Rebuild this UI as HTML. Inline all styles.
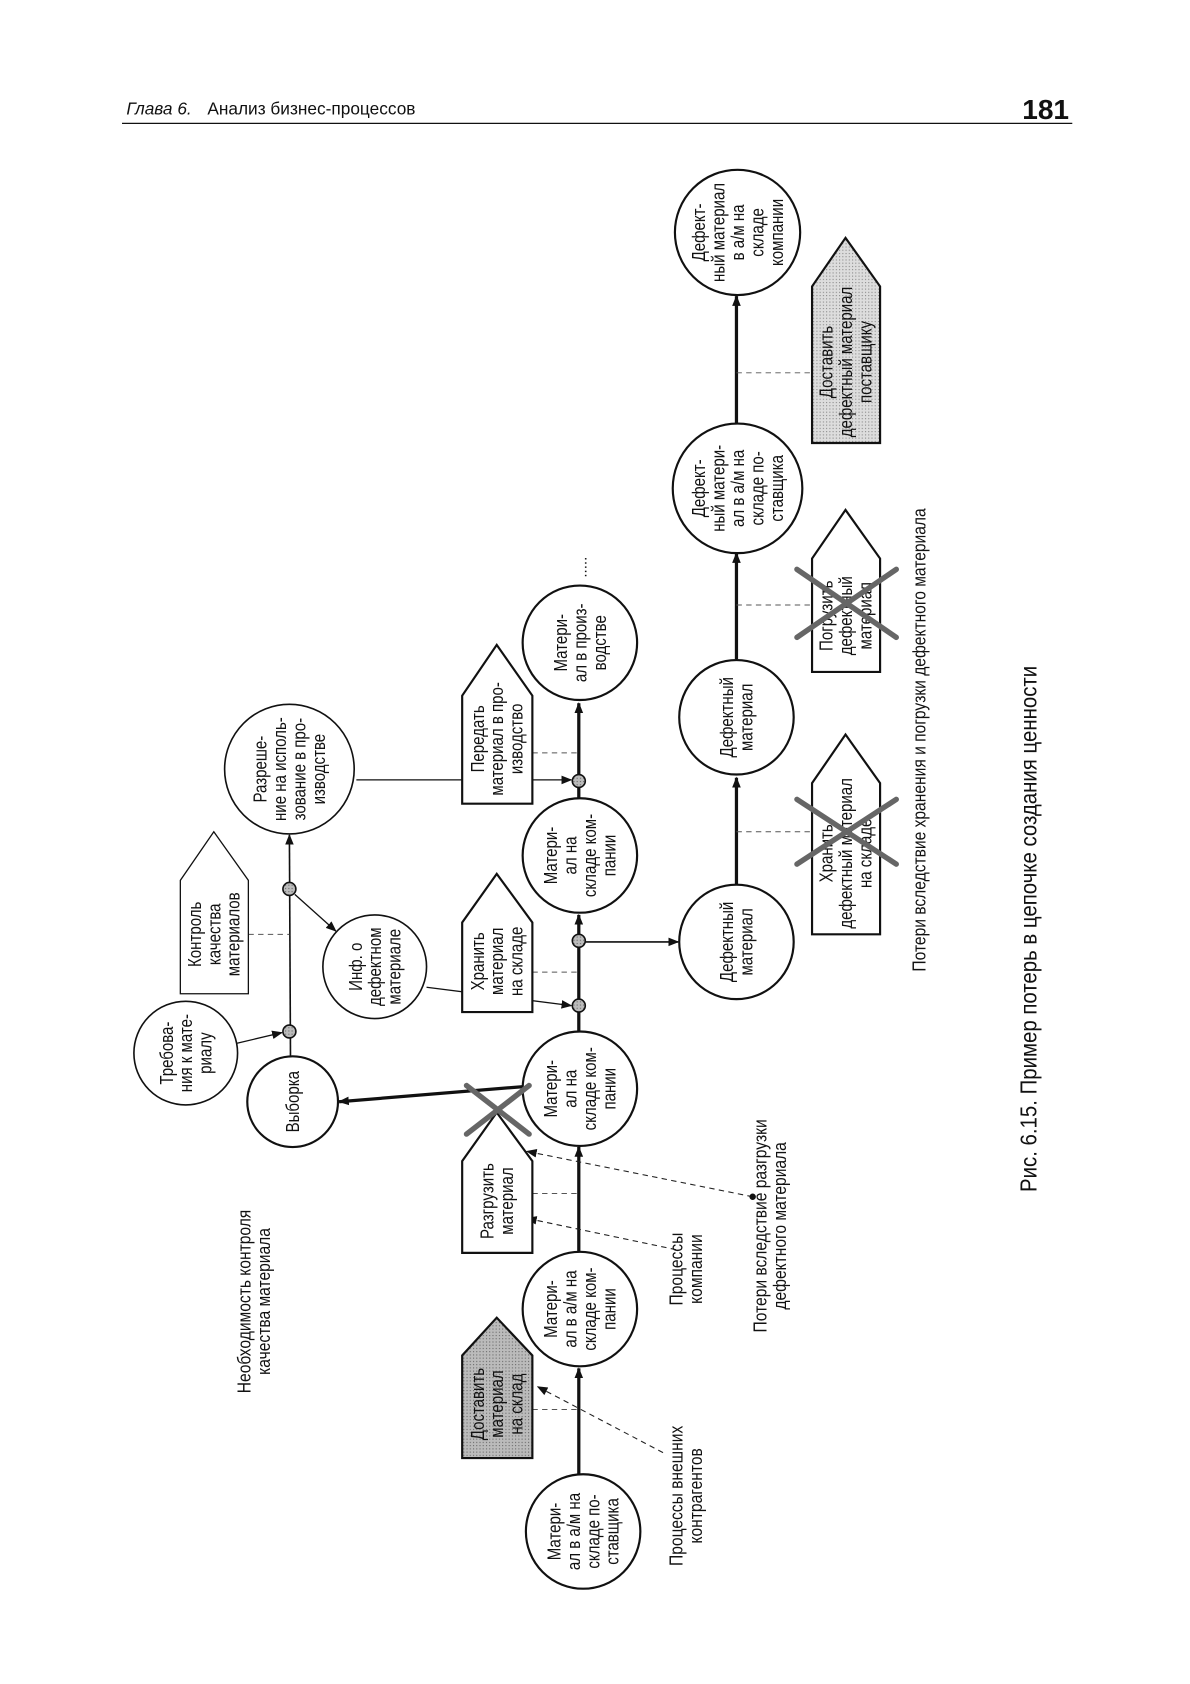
<!DOCTYPE html>
<html><head><meta charset="utf-8"><style>
html,body{margin:0;padding:0;background:#fff;}
svg{display:block;}
text{font-family:"Liberation Sans Narrow","Liberation Sans","DejaVu Sans",sans-serif;fill:#111;}
</style></head><body>
<svg width="1190" height="1684" viewBox="0 0 1102 1559" xmlns="http://www.w3.org/2000/svg">
<defs>
<marker id="a" markerWidth="10" markerHeight="10" refX="9" refY="5" orient="auto" markerUnits="userSpaceOnUse"><path d="M0,1 L10,5 L0,9 Z" fill="#111"/></marker>
<pattern id="g" width="3" height="3" patternUnits="userSpaceOnUse"><rect width="3" height="3" fill="#bbb"/><rect width="1" height="1" fill="#666"/></pattern>
<pattern id="g2" width="3" height="3" patternUnits="userSpaceOnUse"><rect width="3" height="3" fill="#ddd"/><rect width="1" height="1" fill="#888"/></pattern>
</defs>

<!-- header -->
<text x="117" y="106" font-size="16" font-style="italic" style="font-family:'Liberation Sans',sans-serif">Глава 6.</text>
<text x="192" y="106" font-size="16" style="font-family:'Liberation Sans',sans-serif">Анализ бизнес-процессов</text>
<text x="990" y="110" font-size="26" font-weight="bold" text-anchor="end" style="font-family:'Liberation Sans',sans-serif">181</text>
<line x1="113" y1="114" x2="993" y2="114" stroke="#111" stroke-width="1.2"/>

<g stroke="#111" fill="none">
<line x1="536" y1="1365" x2="536" y2="1267" stroke-width="3" marker-end="url(#a)"/>
<line x1="536" y1="1160" x2="536" y2="1062" stroke-width="3" marker-end="url(#a)"/>
<line x1="536" y1="955" x2="536" y2="847" stroke-width="3" marker-end="url(#a)"/>
<line x1="536" y1="740" x2="536" y2="651" stroke-width="3" marker-end="url(#a)"/>
<line x1="542" y1="872" x2="628" y2="872" stroke-width="1.5" marker-end="url(#a)"/>
<line x1="682" y1="820" x2="682" y2="720" stroke-width="3" marker-end="url(#a)"/>
<line x1="682" y1="610" x2="682" y2="512" stroke-width="3" marker-end="url(#a)"/>
<line x1="682" y1="392" x2="682" y2="274" stroke-width="3" marker-end="url(#a)"/>
<line x1="485" y1="1006" x2="314" y2="1020" stroke-width="3" marker-end="url(#a)"/>
<line x1="269" y1="978" x2="268" y2="773" stroke-width="1.5" marker-end="url(#a)"/>
<line x1="219" y1="966" x2="261" y2="956" stroke-width="1.2" marker-end="url(#a)"/>
<line x1="273" y1="828" x2="311" y2="862" stroke-width="1.2" marker-end="url(#a)"/>
<line x1="395" y1="914" x2="529" y2="931" stroke-width="1.2" marker-end="url(#a)"/>
<line x1="330" y1="722" x2="529" y2="722" stroke-width="1.2" marker-end="url(#a)"/>
<g stroke-dasharray="5,4" stroke-width="0.9" stroke="#555">
<line x1="230" y1="865" x2="268" y2="865"/>
<line x1="493" y1="1305" x2="536" y2="1305"/>
<line x1="493" y1="1105" x2="536" y2="1105"/>
<line x1="493" y1="900" x2="536" y2="900"/>
<line x1="493" y1="697" x2="536" y2="697"/>
<line x1="682" y1="770" x2="752" y2="770"/>
<line x1="682" y1="560" x2="752" y2="560"/>
<line x1="682" y1="345" x2="752" y2="345"/>
</g>
<g stroke-dasharray="5,4" stroke-width="1" stroke="#222">
<line x1="614" y1="1345" x2="498" y2="1284" marker-end="url(#a)"/>
<line x1="626" y1="1157" x2="488" y2="1128" marker-end="url(#a)"/>
<line x1="697" y1="1108" x2="488" y2="1066" marker-end="url(#a)"/>
</g>
</g>
<circle cx="697" cy="1108" r="3" fill="#111"/>

<g fill="url(#g)" stroke="#111" stroke-width="1.5">
<circle cx="536" cy="931" r="6"/><circle cx="536" cy="871" r="6"/><circle cx="536" cy="723" r="6"/>
<circle cx="268" cy="955" r="6"/><circle cx="268" cy="823" r="6"/>
</g>

<g fill="#fff" stroke="#111" stroke-width="2">
<circle cx="540" cy="1418" r="53"/>
<circle cx="537" cy="1212" r="53"/>
<circle cx="537" cy="1008" r="53"/>
<circle cx="271" cy="1020" r="42"/>
<circle cx="172" cy="975" r="48" stroke-width="1.5"/>
<circle cx="347" cy="895" r="48" stroke-width="1.5"/>
<circle cx="268" cy="712" r="60" stroke-width="1.5"/>
<circle cx="537" cy="792" r="53"/>
<circle cx="537" cy="595" r="53"/>
<circle cx="682" cy="872" r="53"/>
<circle cx="682" cy="664" r="53"/>
<circle cx="683" cy="452" r="60"/>
<circle cx="683" cy="215" r="58"/>
</g>

<g stroke="#111" stroke-width="2">
<path d="M428,1350 L428,1255 L460,1220 L493,1255 L493,1350 Z" fill="url(#g)"/>
<path d="M428,1160 L428,1075 L460,1030 L493,1075 L493,1160 Z" fill="#fff"/>
<path d="M428,937 L428,854 L460,809 L493,854 L493,937 Z" fill="#fff"/>
<path d="M428,744 L428,644 L460,597 L493,644 L493,744 Z" fill="#fff"/>
<path d="M167,920 L167,815 L198,770 L230,815 L230,920 Z" fill="#fff" stroke-width="1.2"/>
<path d="M752,865 L752,725 L783,680 L815,725 L815,865 Z" fill="#fff"/>
<path d="M752,622 L752,517 L783,472 L815,517 L815,622 Z" fill="#fff"/>
<path d="M752,410 L752,265 L783,220 L815,265 L815,410 Z" fill="url(#g2)"/>
</g>

<g font-size="17" text-anchor="middle">
<g transform="translate(540,1418) rotate(-90) scale(0.82,1)"><text y="-21">Матери-</text><text y="-3">ал в а/м на</text><text y="15">складе по-</text><text y="33">ставщика</text></g>
<g transform="translate(537,1212) rotate(-90) scale(0.82,1)"><text y="-21">Матери-</text><text y="-3">ал в а/м на</text><text y="15">складе ком-</text><text y="33">пании</text></g>
<g transform="translate(537,1008) rotate(-90) scale(0.82,1)"><text y="-21">Матери-</text><text y="-3">ал на</text><text y="15">складе ком-</text><text y="33">пании</text></g>
<g transform="translate(271,1020) rotate(-90) scale(0.82,1)"><text y="6">Выборка</text></g>
<g transform="translate(172,975) rotate(-90) scale(0.82,1)"><text y="-12">Требова-</text><text y="6">ния к мате-</text><text y="24">риалу</text></g>
<g transform="translate(347,895) rotate(-90) scale(0.82,1)"><text y="-12">Инф. о</text><text y="6">дефектном</text><text y="24">материале</text></g>
<g transform="translate(268,712) rotate(-90) scale(0.82,1)"><text y="-21">Разреше-</text><text y="-3">ние на исполь-</text><text y="15">зование в про-</text><text y="33">изводстве</text></g>
<g transform="translate(537,792) rotate(-90) scale(0.82,1)"><text y="-21">Матери-</text><text y="-3">ал на</text><text y="15">складе ком-</text><text y="33">пании</text></g>
<g transform="translate(537,595) rotate(-90) scale(0.82,1)"><text y="-12">Матери-</text><text y="6">ал в произ-</text><text y="24">водстве</text></g>
<g transform="translate(682,872) rotate(-90) scale(0.82,1)"><text y="-3">Дефектный</text><text y="15">материал</text></g>
<g transform="translate(682,664) rotate(-90) scale(0.82,1)"><text y="-3">Дефектный</text><text y="15">материал</text></g>
<g transform="translate(683,452) rotate(-90) scale(0.82,1)"><text y="-30">Дефект-</text><text y="-12">ный матери-</text><text y="6">ал в а/м на</text><text y="24">складе по-</text><text y="42">ставщика</text></g>
<g transform="translate(683,215) rotate(-90) scale(0.82,1)"><text y="-30">Дефект-</text><text y="-12">ный материал</text><text y="6">в а/м на</text><text y="24">складе</text><text y="42">компании</text></g>

<g transform="translate(460,1300) rotate(-90) scale(0.82,1)"><text y="-12">Доставить</text><text y="6">материал</text><text y="24">на склад</text></g>
<g transform="translate(460,1112) rotate(-90) scale(0.82,1)"><text y="-3">Разгрузить</text><text y="15">материал</text></g>
<g transform="translate(460,890) rotate(-90) scale(0.82,1)"><text y="-12">Хранить</text><text y="6">материал</text><text y="24">на складе</text></g>
<g transform="translate(460,684) rotate(-90) scale(0.82,1)"><text y="-12">Передать</text><text y="6">материал в про-</text><text y="24">изводство</text></g>
<g transform="translate(198,865) rotate(-90) scale(0.82,1)"><text y="-12">Контроль</text><text y="6">качества</text><text y="24">материалов</text></g>
<g transform="translate(783,790) rotate(-90) scale(0.82,1)"><text y="-12">Хранить</text><text y="6">дефектный материал</text><text y="24">на складе</text></g>
<g transform="translate(783,570) rotate(-90) scale(0.82,1)"><text y="-12">Погрузить</text><text y="6">дефектный</text><text y="24">материал</text></g>
<g transform="translate(783,335) rotate(-90) scale(0.82,1)"><text y="-12">Доставить</text><text y="6">дефектный материал</text><text y="24">поставщику</text></g>

<g transform="translate(232,1205) rotate(-90) scale(0.85,1)"><text y="0">Необходимость контроля</text><text y="18">качества материала</text></g>
<g transform="translate(632,1385) rotate(-90) scale(0.85,1)"><text y="0">Процессы внешних</text><text y="18">контрагентов</text></g>
<g transform="translate(632,1175) rotate(-90) scale(0.85,1)"><text y="0">Процессы</text><text y="18">компании</text></g>
<g transform="translate(710,1135) rotate(-90) scale(0.85,1)"><text y="0">Потери вследствие разгрузки</text><text y="18">дефектного материала</text></g>
<g transform="translate(857,685) rotate(-90) scale(0.85,1)"><text y="0">Потери вследствие хранения и погрузки дефектного материала</text></g>
<g transform="translate(960,860) rotate(-90) scale(0.9,1)"><text y="0" font-size="21" style="font-family:'Liberation Sans',sans-serif">Рис. 6.15. Пример потерь в цепочке создания ценности</text></g>
<g transform="translate(543,525) rotate(-90)"><text y="0" font-size="14">.....</text></g>
</g>

<g stroke="#666" stroke-width="5" stroke-linecap="round">
<line x1="432" y1="1005" x2="490" y2="1050"/><line x1="490" y1="1005" x2="432" y2="1050"/>
<line x1="738" y1="740" x2="830" y2="800"/><line x1="830" y1="740" x2="738" y2="800"/>
<line x1="738" y1="527" x2="830" y2="590"/><line x1="830" y1="527" x2="738" y2="590"/>
</g>
</svg>
</body></html>
